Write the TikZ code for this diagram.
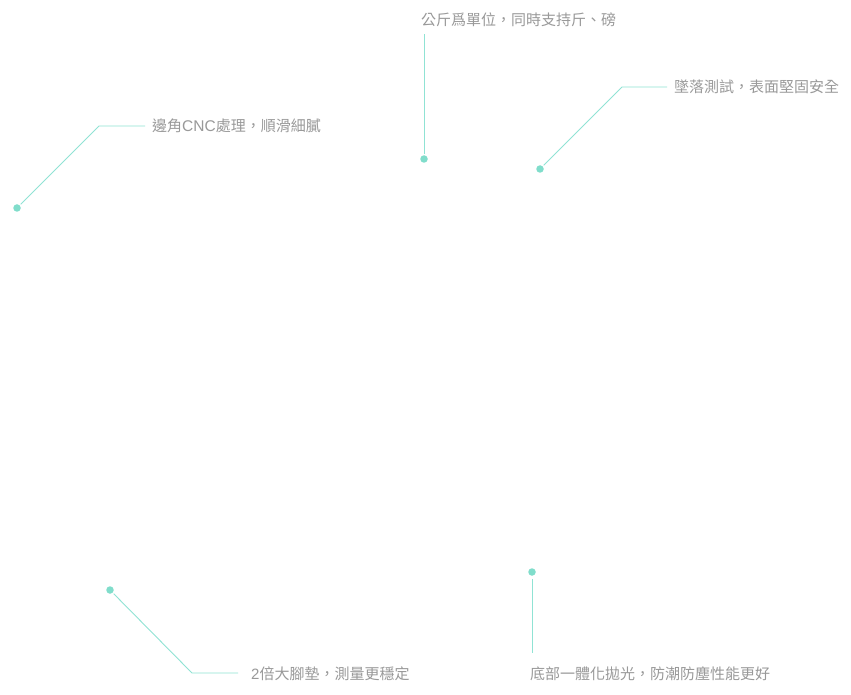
\documentclass[tikz,border=0pt]{standalone}
\usepackage{fontspec}
\setmainfont{Noto Sans CJK TC}
\newfontfamily\latinfont{Liberation Sans}
\definecolor{dotc}{HTML}{80DDCB}
\definecolor{linec}{HTML}{90E3D4}
\definecolor{txtc}{HTML}{999999}
\begin{document}
\begin{tikzpicture}[x=1pt,y=-1pt,
  dotnode/.style={circle,fill=dotc,inner sep=0pt,minimum size=7.5pt},
  label/.style={anchor=west,inner sep=0pt,text=txtc,font=\fontsize{15}{17}\selectfont},
  conn/.style={draw=linec,line width=0.9pt,shorten <=1.2pt}]
\useasboundingbox[fill=white] (0,0) rectangle (851,695);
% top middle
\node[dotnode] (d1) at (424,159) {};
\coordinate (e1) at (424,34);
\node[label] (t1) at (421,20) {公斤爲單位，同時支持斤、磅};
\draw[conn] (d1) -- (e1);
% top right
\node[dotnode] (d2) at (540,169) {};
\coordinate (b2) at (622,87);
\coordinate (e2) at (667,87);
\node[label] (t2) at (674,87) {墜落測試，表面堅固安全};
\draw[conn] (d2) -- (b2) -- (e2);
% left
\node[dotnode] (d3) at (17,208) {};
\coordinate (b3) at (99,126);
\coordinate (e3) at (145,126);
\node[label] (t3) at (152,126) {邊角{\latinfont\fontsize{15.5}{17}\selectfont CNC}處理，順滑細膩};
\draw[conn] (d3) -- (b3) -- (e3);
% bottom left
\node[dotnode] (d4) at (110,590) {};
\coordinate (b4) at (192,673);
\coordinate (e4) at (238,673);
\node[label] (t4) at (251,674) {{\latinfont 2}倍大腳墊，測量更穩定};
\draw[conn] (d4) -- (b4) -- (e4);
% bottom right
\node[dotnode] (d5) at (532,572) {};
\coordinate (e5) at (532,653);
\node[label] (t5) at (530,674) {底部一體化拋光，防潮防塵性能更好};
\draw[conn,shorten <=3pt] (d5) -- (e5);
\end{tikzpicture}
\end{document}
